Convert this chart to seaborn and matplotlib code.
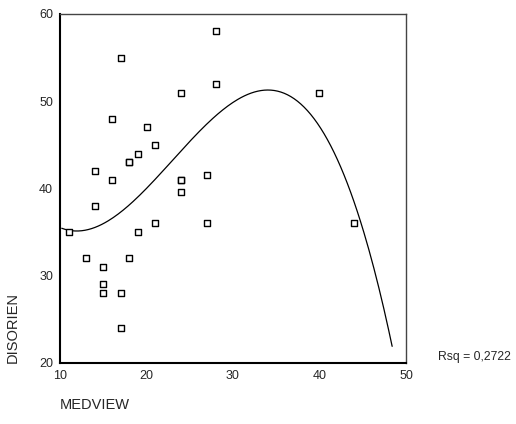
import matplotlib
matplotlib.use("Agg")
import matplotlib.pyplot as plt
import seaborn as sns
import numpy as np
import pandas as pd

# valores
medview = [28, 17, 28, 24, 16, 20, 21, 19, 18, 18, 14, 16, 24, 24, 27,
           24, 14, 11, 19, 21, 27, 13, 18, 15, 15, 15, 17, 17, 40, 44]
disorien = [58, 55, 52, 51, 48, 47, 45, 44, 43, 43, 42, 41, 41, 41, 41.5,
            39.6, 38, 35, 35, 36, 36, 32, 32, 31, 29, 28, 28, 24, 51, 36.1]
faixa_curva = [10.2, 48.4]
rsq_texto = "Rsq = 0,2722"

sns.set_style("white")
plt.rcParams["font.family"] = ["Liberation Sans", "DejaVu Sans"]

df = pd.DataFrame({"MEDVIEW": medview, "DISORIEN": disorien})

# ajuste cúbico
coef = np.polyfit(df["MEDVIEW"], df["DISORIEN"], 3)
xs = np.linspace(faixa_curva[0], faixa_curva[1], 200)
curva = pd.DataFrame({"x": xs, "y": np.polyval(coef, xs)})

fig = plt.figure(figsize=(5.16, 4.24), dpi=100)
ax = fig.add_axes([0.1163, 0.1439, 0.6705, 0.8231])

sns.lineplot(data=curva, x="x", y="y", color="black", linewidth=0.9, ax=ax)
sns.scatterplot(data=df, x="MEDVIEW", y="DISORIEN", marker="s", s=18,
                facecolor="white", edgecolor="black", linewidth=1, ax=ax, zorder=3)

ax.set_xlim(10, 50)
ax.set_ylim(20, 60)
ax.set_xticks([10, 20, 30, 40, 50])
ax.set_yticks([20, 30, 40, 50, 60])
ax.tick_params(axis="both", labelsize=9, length=3, width=1.5, direction="out", pad=2)

for lado in ["left", "bottom"]:
    ax.spines[lado].set_linewidth(1.5)
    ax.spines[lado].set_color("black")
for lado in ["top", "right"]:
    ax.spines[lado].set_linewidth(1)
    ax.spines[lado].set_color("#444444")

ax.set_xlabel("")
ax.set_ylabel("")
fig.text(0.1163, 0.045, "MEDVIEW", fontsize=10.5, ha="left", va="center")
fig.text(0.025, 0.1439, "DISORIEN", fontsize=10.5, rotation=90, ha="center", va="bottom")
fig.text(0.848, 0.158, rsq_texto, fontsize=8.8, ha="left", va="center")

plt.savefig("out.png", dpi=100)
